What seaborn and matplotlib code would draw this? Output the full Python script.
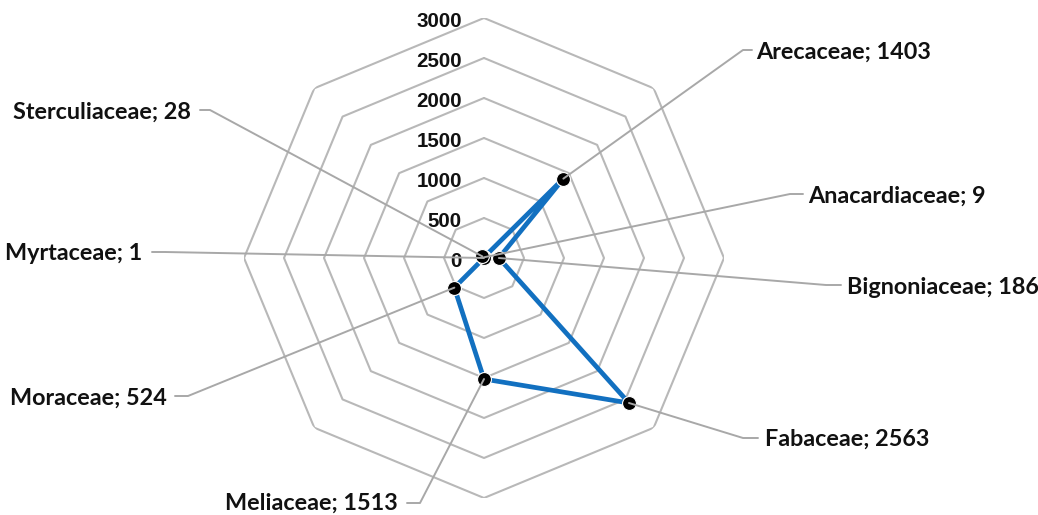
import numpy as np
import pandas as pd
import matplotlib
matplotlib.use("Agg")
import matplotlib.pyplot as plt
from matplotlib.lines import Line2D
import seaborn as sns

# ---- data ----
categories = ["Anacardiaceae", "Arecaceae", "Bignoniaceae", "Fabaceae",
              "Meliaceae", "Moraceae", "Myrtaceae", "Sterculiaceae"]
values = [9, 1403, 186, 2563, 1513, 524, 1, 28]
ring_levels = [0, 500, 1000, 1500, 2000, 2500, 3000]
tick_labels = ["0", "500", "1000", "1500", "2000", "2500", "3000"]

# label layout (image pixel coords): elbow, end of horizontal, text anchor, alignment
label_layout = {
    "Anacardiaceae": ((790, 194), (803, 194), (808, 196), "left"),
    "Arecaceae":     ((743, 50), (752, 50), (756, 52), "left"),
    "Bignoniaceae":  ((826, 285), (841, 285), (847, 287), "left"),
    "Fabaceae":      ((743, 438), (758, 438), (765, 439), "left"),
    "Meliaceae":     ((420, 503), (407, 503), (398, 503), "right"),
    "Moraceae":      ((188, 396), (175, 396), (167, 398), "right"),
    "Myrtaceae":     ((165, 252), (152, 252), (142, 253), "right"),
    "Sterculiaceae": ((210, 110), (200, 110), (191, 112), "right"),
}

W, H = 1038, 515
sns.set_theme(style="white")
plt.rcParams["font.family"] = ["Lato", "DejaVu Sans"]

fig = plt.figure(figsize=(W / 100, H / 100), dpi=100)
ax = fig.add_axes([244 / W, 17 / H, 480 / W, 480 / H], projection="polar")
ax.set_theta_zero_location("N")
ax.set_theta_direction(-1)
ax.set_ylim(0, 3000)
ax.grid(False)
ax.spines["polar"].set_visible(False)
ax.set_xticks([])
ax.set_yticks([])
ax.set_facecolor("white")

n = len(categories)
theta = np.arange(n) * 2 * np.pi / n

# octagonal grid
grid_color = "#B8B8B8"
for lvl in ring_levels[1:]:
    th = np.append(theta, 2 * np.pi)
    rr = np.full(len(th), lvl)
    ax.plot(th, rr, color=grid_color, lw=1.5, zorder=1)

# tick labels
for lvl, lab in zip(ring_levels, tick_labels):
    ax.annotate(lab, xy=(0, lvl), xycoords="data", xytext=(-22, -3.5),
                textcoords="offset pixels", ha="right", va="center",
                fontsize=14.8, fontweight="bold", color="#111111",
                family=["Liberation Sans", "DejaVu Sans"], zorder=5)

df = pd.DataFrame({"theta": np.append(theta, 2 * np.pi),
                   "value": values + [values[0]]})
sns.lineplot(data=df, x="theta", y="value", sort=False, estimator=None,
             color="#1270C0", linewidth=3.4, ax=ax, zorder=3)
pts = pd.DataFrame({"theta": theta, "value": values})
sns.scatterplot(data=pts, x="theta", y="value", s=100, color="black",
                edgecolor="white", linewidth=0.8, ax=ax, zorder=6)
ax.set_xlabel("")
ax.set_ylabel("")
ax.set_ylim(0, 3000)

# leader lines and labels
inv = fig.transFigure.inverted()
for cat, th, v in zip(categories, theta, values):
    px, py = ax.transData.transform((th, v))
    (ex, ey), (hx, hy), (tx, ty), ha = label_layout[cat]
    xs_disp = [px, ex, hx]
    ys_disp = [py, H - ey, H - hy]
    pts_fig = inv.transform(np.column_stack([xs_disp, ys_disp]))
    fig.add_artist(Line2D(pts_fig[:, 0], pts_fig[:, 1], transform=fig.transFigure,
                          color="#A8A8A8", lw=1.4, zorder=2))
    fig.text(tx / W, 1 - ty / H, f"{cat}; {v}", ha=ha, va="center",
             fontsize=16.8, fontweight="bold", color="#111111")

fig.savefig("out.png", dpi=100)
